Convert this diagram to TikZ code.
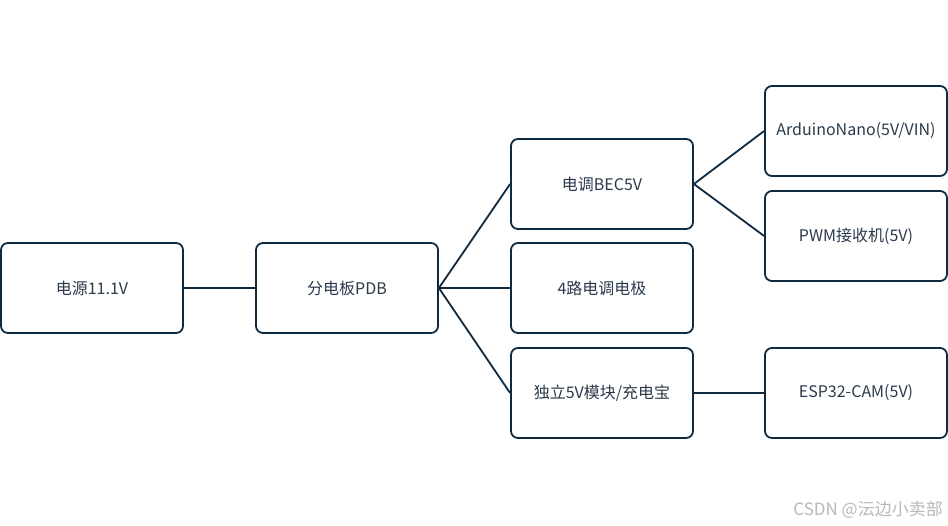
\documentclass[tikz,border=0pt]{standalone}
\usepackage{fontspec}
\setmainfont{Noto Sans CJK SC}
\begin{document}
\begin{tikzpicture}[x=1pt,y=-1pt,
  box/.style={draw=lineC, line width=1.8pt, rounded corners=7pt, minimum width=182pt, minimum height=90pt, text=textC, font=\fontsize{16}{18}\selectfont, inner sep=0pt},
  conn/.style={draw=lineC, line width=1.8pt}]
\definecolor{lineC}{HTML}{102A40}
\definecolor{textC}{HTML}{2A3A4C}
\useasboundingbox (0,0) rectangle (948,525);
\fill[white] (0,0) rectangle (948,525);
\node[box] (src) at (92,288) {电源11.1V};
\node[box] (pdb) at (347,288) {分电板PDB};
\node[box] (bec) at (602,184) {电调BEC5V};
\node[box] (esc) at (602,288) {4路电调电极};
\node[box] (ind) at (602,393) {独立5V模块/充电宝};
\node[box] (ard) at (856,131) {ArduinoNano(5V/VIN)};
\node[box] (pwm) at (856,236) {PWM接收机(5V)};
\node[box] (cam) at (856,393) {ESP32-CAM(5V)};
\draw[conn] (src.east) -- (pdb.west);
\draw[conn] (pdb.east) -- (bec.west);
\draw[conn] (pdb.east) -- (esc.west);
\draw[conn] (pdb.east) -- (ind.west);
\draw[conn] (bec.east) -- (ard.west);
\draw[conn] (bec.east) -- (pwm.west);
\draw[conn] (ind.east) -- (cam.west);
\node[text=black!28, font=\fontsize{17}{19}\selectfont, anchor=east, inner sep=0pt] (wm) at (943,510) {CSDN @沄边小卖部};
\end{tikzpicture}
\end{document}
